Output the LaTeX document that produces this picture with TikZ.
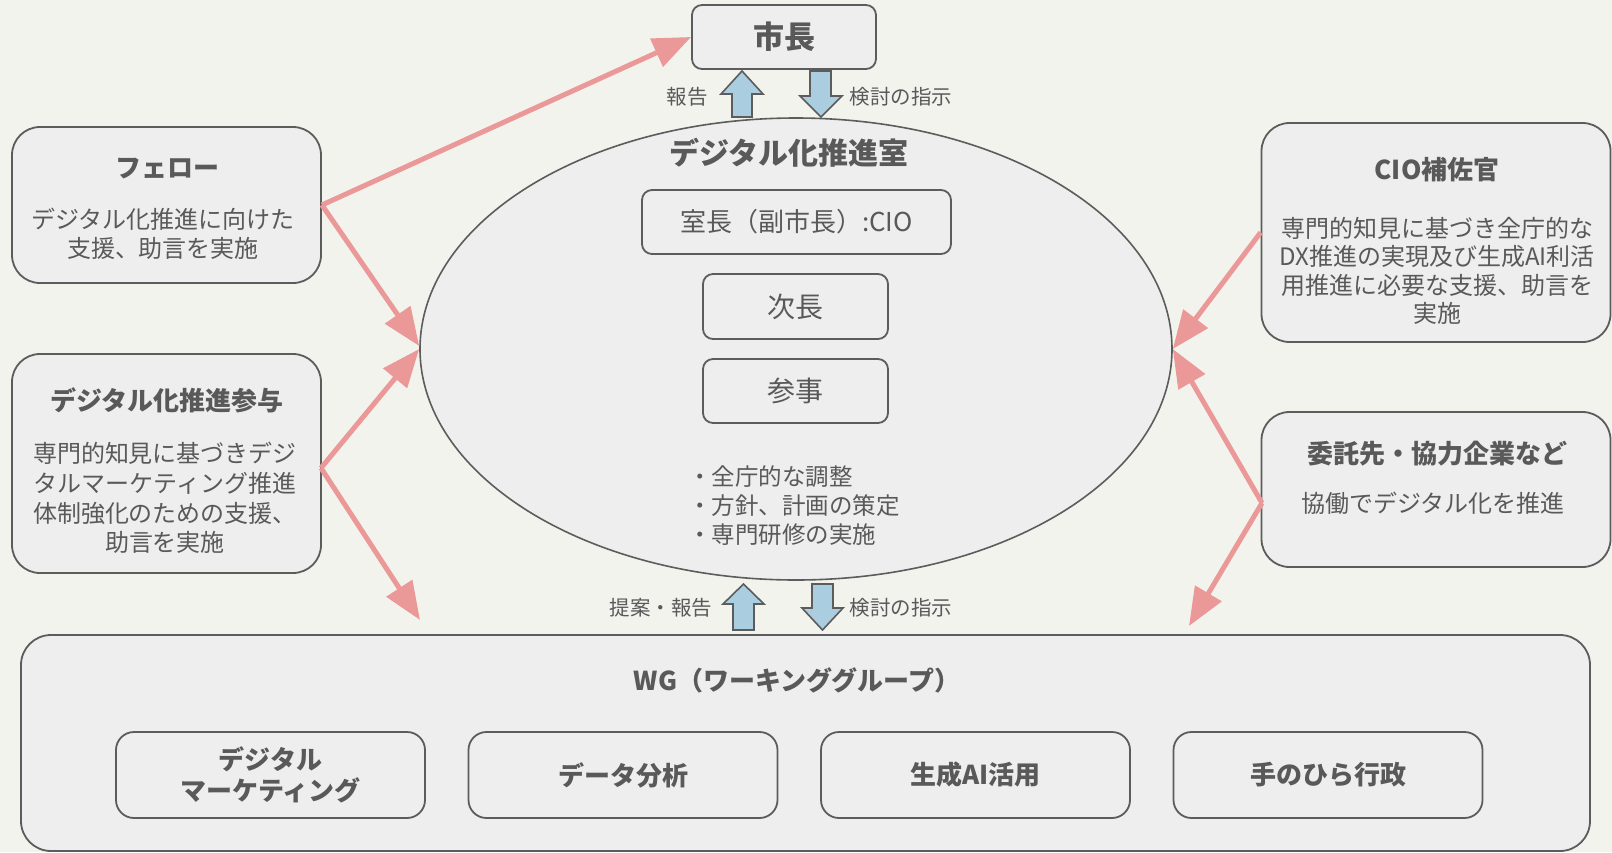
\documentclass[tikz,border=0pt]{standalone}
\usepackage{fontspec}
\setmainfont{Noto Sans CJK JP}
\usetikzlibrary{shapes.geometric,arrows.meta}
\definecolor{bg}{HTML}{F3F3EE}
\definecolor{boxfill}{HTML}{EEEEEE}
\definecolor{edge}{HTML}{5C5C5C}
\definecolor{txt}{HTML}{595959}
\definecolor{pinkar}{HTML}{EB9898}
\definecolor{bluear}{HTML}{AACDE0}
\begin{document}
\begin{tikzpicture}[x=1pt,y=-1pt,
  box/.style={draw=edge, fill=boxfill, line width=1.8pt, inner sep=0pt, rectangle},
  bigbox/.style={box, rounded corners=28pt},
  smallbox/.style={box, rounded corners=10pt},
  wgbox/.style={box, rounded corners=18pt, minimum width=309pt, minimum height=86pt, text=txt, font=\fontsize{26}{31}\selectfont\bfseries, align=center},
  ttl/.style={text=txt, font=\fontsize{26}{31}\selectfont\bfseries, inner sep=0pt},
  body/.style={text=txt, font=\fontsize{24}{29}\selectfont, align=center, inner sep=0pt},
  lbl/.style={text=txt, font=\fontsize{20.5}{24}\selectfont, inner sep=0pt},
  pinkarrow/.style={draw=pinkar, line width=5pt, -{Triangle[length=38pt,width=30pt]}},
  blockar/.style={fill=bluear, draw=edge, line width=1.6pt, line join=miter}
]
\fill[bg] (0,0) rectangle (1612,852);

% central ellipse
\node[ellipse, draw=edge, fill=boxfill, line width=1.6pt, minimum width=752pt, minimum height=462pt, inner sep=0pt] (room) at (796,349) {};
\node[text=txt, font=\fontsize{30}{36}\selectfont\bfseries, inner sep=0pt] (roomttl) at (789,153) {デジタル化推進室};
\node[smallbox, minimum width=309pt, minimum height=64pt, text=txt, font=\fontsize{26}{30}\selectfont] (murocho) at (796.5,222) {室長（副市長）:CIO};
\node[smallbox, minimum width=185pt, minimum height=65pt, text=txt, font=\fontsize{28}{32}\selectfont] (jicho) at (795.5,306.5) {次長};
\node[smallbox, minimum width=185pt, minimum height=64pt, text=txt, font=\fontsize{28}{32}\selectfont] (sanji) at (795.5,391) {参事};
\node[text=txt, font=\fontsize{23.5}{29}\selectfont, align=left, inner sep=0pt] (duties) at (794,506) {・全庁的な調整\\・方針、計画の策定\\・専門研修の実施};

% mayor
\node[smallbox, minimum width=184pt, minimum height=64pt, text=txt, font=\fontsize{31}{36}\selectfont\bfseries] (shicho) at (784,37) {市長};

% left boxes
\node[bigbox, minimum width=309pt, minimum height=156pt] (fellow) at (166.5,205) {};
\node[ttl] (fellowttl) at (167,169) {フェロー};
\node[body] (fellowbody) at (163,234) {デジタル化推進に向けた\\支援、助言を実施};

\node[bigbox, minimum width=309pt, minimum height=219pt] (sanyo) at (166.5,463.5) {};
\node[ttl] (sanyottl) at (167,400) {デジタル化推進参与};
\node[body, font=\fontsize{24}{29.7}\selectfont] (sanyobody) at (165,498) {専門的知見に基づきデジ\\タルマーケティング推進\\体制強化のための支援、\\助言を実施};

% right boxes
\node[bigbox, minimum width=349pt, minimum height=219pt] (cio) at (1436,232.5) {};
\node[ttl] (ciottl) at (1437,170) {CIO補佐官};
\node[body, font=\fontsize{24}{28.5}\selectfont] (ciobody) at (1437,271) {専門的知見に基づき全庁的な\\DX推進の実現及び生成AI利活\\用推進に必要な支援、助言を\\実施};

\node[bigbox, minimum width=349pt, minimum height=155pt] (itaku) at (1436,489.5) {};
\node[ttl] (itakuttl) at (1437,454) {委託先・協力企業など};
\node[body] (itakubody) at (1433,503) {協働でデジタル化を推進};

% WG
\node[box, rounded corners=30pt, minimum width=1569pt, minimum height=216pt] (wg) at (805.5,743) {};
\node[ttl] (wgttl) at (797,680) {WG（ワーキンググループ）};
\node[wgbox] (wg1) at (270.5,775) {デジタル\\マーケティング};
\node[wgbox] (wg2) at (623,775) {データ分析};
\node[wgbox] (wg3) at (975.5,775) {生成AI活用};
\node[wgbox] (wg4) at (1328,775) {手のひら行政};

% block arrows between mayor and room
\draw[blockar] (742,71) -- (763,94) -- (752,94) -- (752,117) -- (732,117) -- (732,94) -- (721,94) -- cycle;
\draw[blockar] (810,71) -- (831,71) -- (831,96) -- (842,96) -- (821,117) -- (800,96) -- (810,96) -- cycle;
\node[lbl] (hokoku) at (687,97) {報告};
\node[lbl] (shiji1) at (901,97) {検討の指示};

% block arrows between room and WG
\draw[blockar] (743.5,584) -- (764,604) -- (754,604) -- (754,630) -- (733,630) -- (733,604) -- (723,604) -- cycle;
\draw[blockar] (812,584) -- (833,584) -- (833,608) -- (843,608) -- (822.5,630) -- (802,608) -- (812,608) -- cycle;
\node[lbl] (teian) at (661,608) {提案・報告};
\node[lbl] (shiji2) at (901,608) {検討の指示};

% pink connectors
\coordinate (sanyoP) at (321,468);
\coordinate (itakuP) at (1262,503);
\coordinate (wgL) at (420,620);
\coordinate (wgR) at (1189,626);
\draw[pinkarrow] (fellow.east) -- (shicho.west);
\draw[pinkarrow] (fellow.east) -- ([yshift=3pt]room.west);
\draw[pinkarrow] (sanyoP) -- (room.west);
\draw[pinkarrow] (sanyoP) -- (wgL);
\draw[pinkarrow] (cio.west) -- (room.east);
\draw[pinkarrow] (itakuP) -- (room.east);
\draw[pinkarrow] (itakuP) -- (wgR);
\end{tikzpicture}
\end{document}
